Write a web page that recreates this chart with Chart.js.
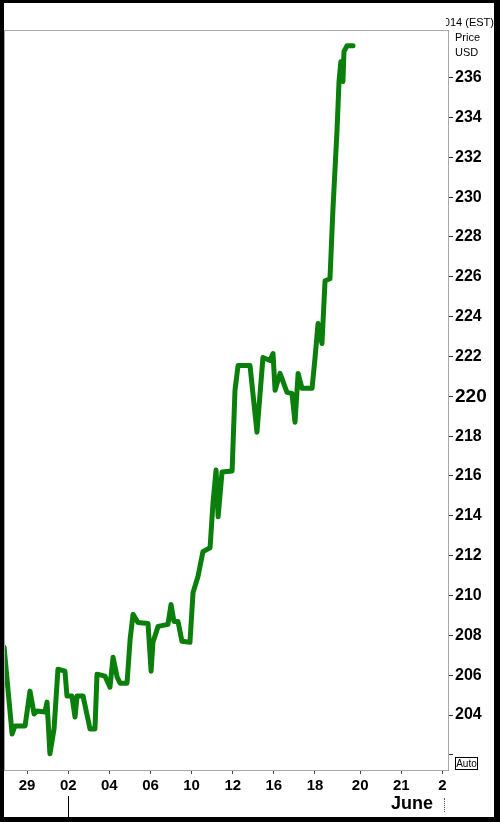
<!DOCTYPE html>
<html>
<head>
<meta charset="utf-8">
<script src="https://cdn.jsdelivr.net/npm/chart.js@4/dist/chart.umd.min.js"></script>
<style>
  html, body { margin: 0; padding: 0; background: #fff; }
  #wrap { position: relative; width: 500px; height: 822px; overflow: hidden; font-family: "Liberation Sans", Arial, sans-serif; }
  #chart { position: absolute; left: 0; top: 0; }
  .txt { position: absolute; color: #000; white-space: nowrap; }
  #frame { position: absolute; left: 0; top: 0; width: 500px; height: 822px; box-sizing: border-box;
           border-style: solid; border-color: #000; border-width: 3px 6px 5px 4px; pointer-events: none; }
  #hdrclip { position: absolute; left: 446px; top: 15px; width: 48px; height: 16px; overflow: hidden; }
  #auto { position: absolute; left: 455px; top: 757px; width: 21px; height: 11px; border: 1px solid #000;
          font-size: 10px; line-height: 11px; text-align: center; background: #fff; }
</style>
</head>
<body>
<div id="wrap">
  <canvas id="chart" width="500" height="822"></canvas>
  <div id="hdrclip"><div class="txt" style="right:0;top:0;font-size:11px;line-height:14px;">2014 (EST)</div></div>
  <div class="txt" style="left:455px;top:30px;font-size:11px;line-height:14px;">Price</div>
  <div class="txt" style="left:455px;top:45px;font-size:11px;line-height:14px;">USD</div>
  <div id="auto">Auto</div>
  <div class="txt" style="left:391px;top:794px;font-size:18px;line-height:18px;font-weight:bold;">June</div>
  <div style="position:absolute;left:444px;top:798px;height:14px;border-left:1px dotted #555;"></div>
  <div style="position:absolute;left:68px;top:796px;width:1px;height:21px;background:#000;"></div>
  <div id="frame"></div>
</div>
<script>
// trading days counted from 29 May
const days = [-1.12, -0.73, -0.59, -0.10, 0.14, 0.34, 0.48, 0.87, 0.97, 1.11,
    1.31, 1.50, 1.84, 1.94, 2.18, 2.33, 2.43, 2.72, 3.06, 3.30,
    3.40, 3.79, 4.03, 4.18, 4.38, 4.52, 4.86, 5.01, 5.15, 5.39,
    5.88, 6.03, 6.12, 6.37, 6.85, 7.00, 7.14, 7.34, 7.53, 7.92,
    8.07, 8.31, 8.55, 8.90, 9.04, 9.19, 9.29, 9.48, 9.97, 10.11,
    10.26, 10.84, 11.18, 11.47, 11.81, 11.96, 12.06, 12.30, 12.64, 12.88,
    13.03, 13.18, 13.37, 13.86, 14.00, 14.15, 14.34, 14.49, 14.73, 14.87,
    15.07, 15.17, 15.26, 15.36, 15.41, 15.56, 15.85];
const prices = [207.4, 203.05, 203.45, 203.45, 205.2, 204.05, 204.2, 204.15, 204.65, 202.05,
    203.3, 206.3, 206.2, 204.95, 204.95, 203.9, 204.95, 204.95, 203.3, 203.3,
    206.05, 205.95, 205.4, 206.9, 205.9, 205.6, 205.6, 207.8, 209.05, 208.65,
    208.6, 206.2, 207.65, 208.45, 208.55, 209.55, 208.7, 208.7, 207.7, 207.65,
    210.15, 210.95, 212.2, 212.4, 214.65, 216.3, 213.95, 216.2, 216.25, 220.3,
    221.55, 221.55, 218.2, 221.95, 221.8, 222.15, 220.3, 221.15, 220.2, 220.15,
    218.7, 221.15, 220.4, 220.4, 221.9, 223.65, 222.65, 225.8, 225.9, 229.3,
    233.3, 235.8, 236.8, 235.8, 237.3, 237.6, 237.6];

const tickDays = [0, 2, 4, 6, 8, 10, 12, 14, 16.2, 18.2, 20.2];
const tickLabels = ['29', '02', '04', '06', '10', '12', '16', '18', '20', '21', '2'];
const priceTicks = [202, 204, 206, 208, 210, 212, 214, 216, 218, 220, 222, 224, 226, 228, 230, 232, 234, 236];

const points = days.map((d, i) => ({ x: d, y: prices[i] }));

const frameBox = {
    id: 'frameBox',
    afterDraw(chart) {
        const a = chart.chartArea;
        const ctx = chart.ctx;
        ctx.save();
        ctx.strokeStyle = '#a8a8a8';
        ctx.lineWidth = 1;
        ctx.strokeRect(a.left + 0.5, a.top + 0.5, a.right - a.left, a.bottom - a.top);
        ctx.restore();
    }
};

new Chart(document.getElementById('chart').getContext('2d'), {
    type: 'line',
    data: {
        datasets: [{
            data: points,
            borderColor: '#0b7f0b',
            borderWidth: 5,
            pointRadius: 0,
            tension: 0,
            borderJoinStyle: 'round',
            borderCapStyle: 'round'
        }]
    },
    options: {
        responsive: false,
        animation: false,
        layout: { padding: { left: 4, top: 30, right: 0, bottom: 0 } },
        plugins: { legend: { display: false }, tooltip: { enabled: false } },
        scales: {
            x: {
                type: 'linear',
                min: -1.124,
                max: 20.47,
                afterBuildTicks: scale => { scale.ticks = tickDays.map(v => ({ value: v })); },
                afterFit: scale => { scale.height = 52; },
                grid: { drawOnChartArea: false, tickLength: 4, tickColor: '#444' },
                border: { color: '#a8a8a8' },
                ticks: {
                    autoSkip: false,
                    maxRotation: 0,
                    padding: 3,
                    color: '#000',
                    font: { family: 'Liberation Sans, Arial', size: 15, weight: 'bold' },
                    callback: (v, i) => tickLabels[i]
                }
            },
            y: {
                position: 'right',
                min: 201.24,
                max: 238.39,
                afterBuildTicks: scale => { scale.ticks = priceTicks.map(v => ({ value: v })); },
                afterFit: scale => { scale.width = 52; },
                grid: { drawOnChartArea: false, tickLength: 5, tickColor: '#333' },
                border: { color: '#a8a8a8' },
                ticks: {
                    padding: 2,
                    color: '#000',
                    font: ctx => ({ family: 'Liberation Sans, Arial', weight: 'bold',
                        size: ctx.tick && ctx.tick.value === 220 ? 19 : 16 }),
                    callback: v => (v === 202 ? '' : String(v))
                }
            }
        }
    },
    plugins: [frameBox]
});
</script>
</body>
</html>
